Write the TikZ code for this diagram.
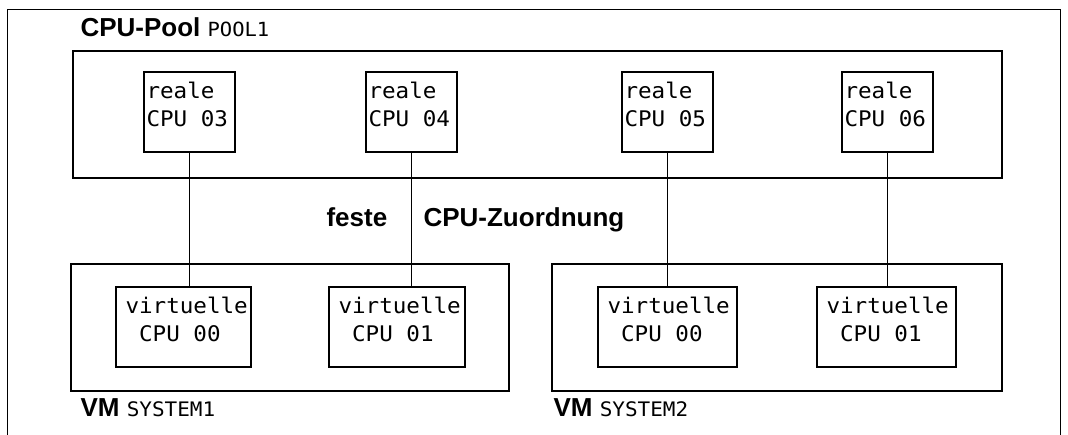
\documentclass[tikz,border=0pt]{standalone}
\usepackage{fontspec}
\usepackage{xcolor}
\usepackage{tikz}
\setmainfont{Liberation Sans}
\newfontfamily\cpumono[FakeStretch=1.05]{DejaVu Sans Mono}

\tikzset{
    frame/.style={draw, line width=1.1pt, inner sep=0pt},
    cpubox/.style={frame, minimum width=#1, minimum height=80},
    groupbox/.style={frame, minimum width=#1, minimum height=127},
    cputext/.style={inner sep=0pt, anchor=north west, align=left, font=\cpumono\fontsize{21.5}{28}\selectfont},
    headtext/.style={inner sep=0pt, anchor=base west, font=\bfseries\fontsize{26}{30}\selectfont},
}

\begin{document}
\begin{tikzpicture}[x=1pt, y=-1pt, line width=1.1pt]
    \useasboundingbox (0,0) rectangle (1068,435);
    \draw (7.5,435) -- (7.5,9.5) -- (1060.5,9.5) -- (1060.5,435);

    % pool with the real cpus
    \node[headtext] (pooltitle) at (80,36.7) {CPU-Pool {\cpumono\mdseries\fontsize{19.5}{20}\selectfont POOL1}};
    \node[groupbox=929] (pool) at (537.5,114.5) {};
    \node[cpubox=91] (cpu3) at (189.5,112) {};
    \node[cpubox=91] (cpu4) at (411.5,112) {};
    \node[cpubox=91] (cpu5) at (667.5,112) {};
    \node[cpubox=91] (cpu6) at (887.5,112) {};
    \node[cputext] (cpu3txt) at ([shift={(2.5,10)}]cpu3.north west) {reale\\CPU 03};
    \node[cputext] (cpu4txt) at ([shift={(2.5,10)}]cpu4.north west) {reale\\CPU 04};
    \node[cputext] (cpu5txt) at ([shift={(2.5,10)}]cpu5.north west) {reale\\CPU 05};
    \node[cputext] (cpu6txt) at ([shift={(2.5,10)}]cpu6.north west) {reale\\CPU 06};

    % the two VMs
    \node[groupbox=438] (vm1) at (290,327.5) {};
    \node[groupbox=450] (vm2) at (777,327.5) {};
    \node[cpubox=135] (vcpu1a) at (183.5,327) {};
    \node[cpubox=136] (vcpu1b) at (397,327) {};
    \node[cpubox=139] (vcpu2a) at (667.5,327) {};
    \node[cpubox=139] (vcpu2b) at (886.5,327) {};
    \node[cputext] (vcpu1atxt) at ([shift={(9.5,10)}]vcpu1a.north west) {virtuelle\\~CPU 00};
    \node[cputext] (vcpu1btxt) at ([shift={(9.5,10)}]vcpu1b.north west) {virtuelle\\~CPU 01};
    \node[cputext] (vcpu2atxt) at ([shift={(9.5,10)}]vcpu2a.north west) {virtuelle\\~CPU 00};
    \node[cputext] (vcpu2btxt) at ([shift={(9.5,10)}]vcpu2b.north west) {virtuelle\\~CPU 01};
    \node[headtext] (vm1lbl) at (80,416.7) {VM {\cpumono\mdseries\fontsize{20}{20}\selectfont SYSTEM1}};
    \node[headtext] (vm2lbl) at (553,416.7) {VM {\cpumono\mdseries\fontsize{20}{20}\selectfont SYSTEM2}};

    % fixed assignment
    \draw (cpu3.south) -- (cpu3.south |- vcpu1a.north);
    \draw (cpu4.south) -- (cpu4.south |- vcpu1b.north);
    \draw (cpu5.south) -- (cpu5.south |- vcpu2a.north);
    \draw (cpu6.south) -- (cpu6.south |- vcpu2b.north);
    \node[headtext] (feste) at (326,226.7) {feste};
    \node[headtext] (zuord) at (423,226.7) {CPU-Zuordnung};
\end{tikzpicture}
\end{document}
